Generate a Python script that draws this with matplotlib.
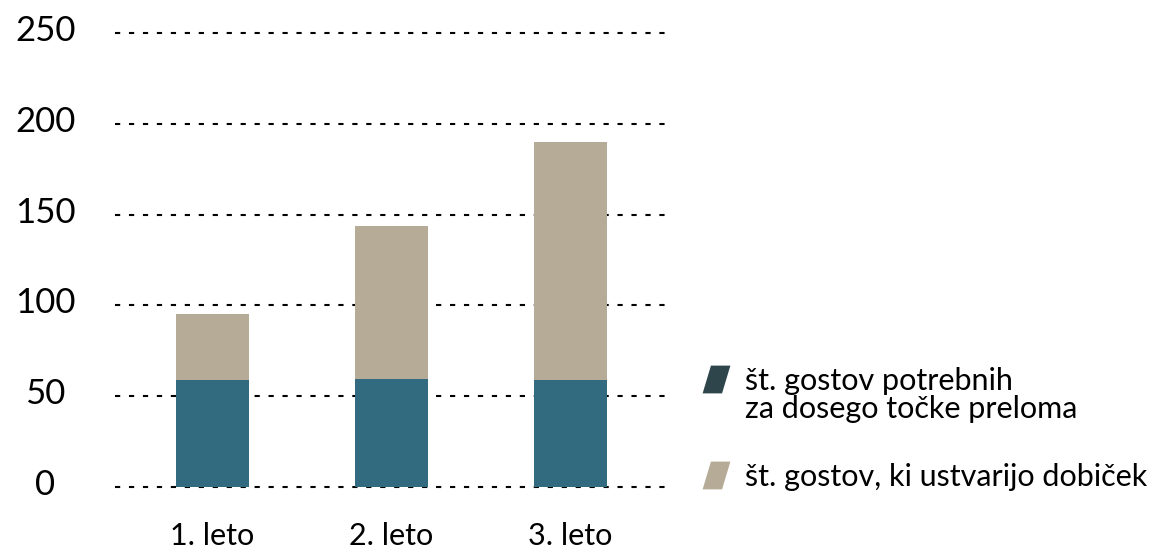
import matplotlib
matplotlib.use("Agg")
import matplotlib.pyplot as plt
import matplotlib.transforms as mtransforms
from matplotlib.path import Path
from matplotlib.lines import Line2D
import numpy as np

plt.rcParams['font.family'] = ['Lato', 'DejaVu Sans']

# data
years = ['1. leto', '2. leto', '3. leto']
break_even = [59, 59.5, 59]
profit = [36, 84, 131]
yticks = [0, 50, 100, 150, 200, 250]
legend_rows = ['št. gostov potrebnih', 'za dosego točke preloma',
               'št. gostov, ki ustvarijo dobiček']

teal = '#326a80'
tan = '#b5ab96'
legend_dark = '#2e454c'

fig = plt.figure(figsize=(11.63, 5.5), dpi=100)
ax = fig.add_axes([115 / 1163, 54 / 550, 552 / 1163, 472 / 550])

x = np.arange(len(years))
ax.bar(x, break_even, width=0.41, color=teal, zorder=2)
ax.bar(x, profit, width=0.41, bottom=break_even, color=tan, zorder=2)

ax.set_xlim(-0.545, 2.54)
ax.set_ylim(-5, 255)
ax.set_yticks(yticks)
ax.set_xticks(x)
ax.set_xticklabels(years, fontsize=22)
ax.set_yticklabels([str(v) for v in yticks], fontsize=25)
ax.tick_params(axis='y', length=0, pad=50)
ax.tick_params(axis='x', length=0, pad=19)

# centre the y labels and lift them a bit above the grid lines
lift = mtransforms.ScaledTranslation(0, 5 / 100, fig.dpi_scale_trans)
for lb in ax.get_yticklabels():
    lb.set_horizontalalignment('center')
    lb.set_transform(lb.get_transform() + lift)

ax.grid(axis='y', color='black', linewidth=1.5, linestyle=(0, (2.5, 4.2)), zorder=1)
for s in ax.spines.values():
    s.set_visible(False)

# parallelogram marker for legend, marker sits on the first text line only
para = Path([(-0.5, -0.5), (0.2, -0.5), (0.5, 0.5), (-0.2, 0.5), (-0.5, -0.5)],
            [Path.MOVETO, Path.LINETO, Path.LINETO, Path.LINETO, Path.CLOSEPOLY])
row_colors = [legend_dark, 'none', tan]
row_y = [1 - 381 / 550, 1 - 409 / 550, 1 - 477 / 550]
for text, c, yy in zip(legend_rows, row_colors, row_y):
    h = Line2D([], [], linestyle='none', marker=para, markersize=20,
               markerfacecolor=c, markeredgecolor='none')
    fig.legend([h], [text], loc='center left', bbox_to_anchor=(702 / 1163, yy),
               frameon=False, fontsize=22, handlelength=0.9, handletextpad=0.5,
               borderpad=0, borderaxespad=0)

fig.savefig('out.png', dpi=100)
